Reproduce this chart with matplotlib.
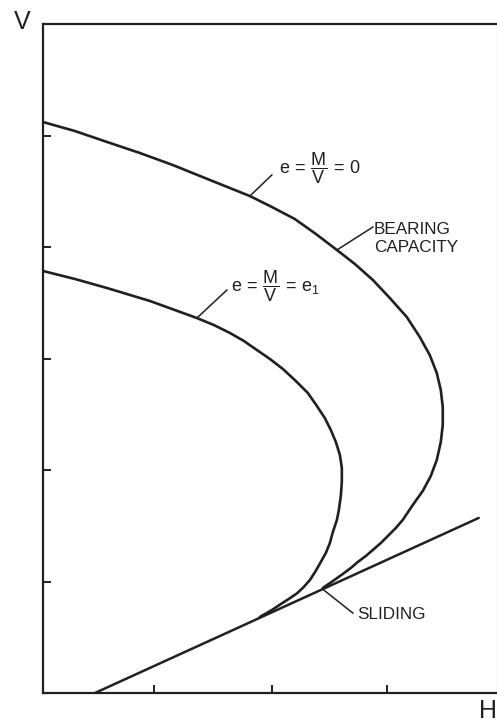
import numpy as np
import matplotlib
matplotlib.use("Agg")
import matplotlib.pyplot as plt

plt.rcParams['font.family'] = ['Liberation Sans', 'DejaVu Sans']
plt.rcParams['mathtext.fontset'] = 'custom'
plt.rcParams['mathtext.rm'] = 'Liberation Sans'
plt.rcParams['mathtext.it'] = 'Liberation Sans'
plt.rcParams['mathtext.bf'] = 'Liberation Sans:bold'

INK = '#231f20'

# bearing capacity envelope, e = M/V = 0  (H, V)
outer_H = [0.000, 0.278, 0.557, 0.843, 1.130, 1.452, 1.800, 1.991, 2.191, 2.374,
           2.557, 2.713, 2.870, 3.017, 3.165, 3.278, 3.365, 3.426, 3.461, 3.478,
           3.478, 3.461, 3.426, 3.374, 3.304, 3.217, 3.130, 3.070, 3.009, 2.939,
           2.870, 2.809, 2.739, 2.678, 2.609, 2.522, 2.435]
outer_V = [5.121, 5.040, 4.942, 4.843, 4.735, 4.601, 4.457, 4.359, 4.251, 4.117,
           3.973, 3.848, 3.704, 3.543, 3.372, 3.193, 3.031, 2.870, 2.717, 2.565,
           2.404, 2.251, 2.090, 1.946, 1.812, 1.686, 1.552, 1.480, 1.417, 1.345,
           1.283, 1.229, 1.175, 1.121, 1.068, 1.004, 0.942]

# envelope for eccentric load, e = M/V = e1
inner_H = [0.000, 0.278, 0.557, 0.930, 1.339, 1.487, 1.626, 1.748, 1.861, 1.974,
           2.087, 2.200, 2.304, 2.383, 2.452, 2.504, 2.548, 2.583, 2.600, 2.600,
           2.591, 2.574, 2.557, 2.522, 2.496, 2.461, 2.417, 2.370, 2.322, 2.265,
           2.209, 2.148, 2.080, 1.991, 1.887]
inner_V = [3.785, 3.713, 3.632, 3.516, 3.363, 3.300, 3.229, 3.157, 3.076, 2.996,
           2.906, 2.798, 2.691, 2.574, 2.466, 2.359, 2.251, 2.135, 2.018, 1.892,
           1.767, 1.641, 1.552, 1.444, 1.345, 1.256, 1.175, 1.090, 1.013, 0.947,
           0.893, 0.850, 0.805, 0.744, 0.682]

# sliding limit
slide_H = [0.452, 3.791]
slide_V = [0.000, 1.570]

xticks = [0.97, 1.99, 2.99]
yticks = [1, 2, 3, 4, 5]

fig = plt.figure(figsize=(4.97, 7.26), dpi=100)
ax = fig.add_axes([43/497, 33/726, 1 - 43/497, 669/726])

ax.plot(outer_H, outer_V, color=INK, lw=1.9, solid_joinstyle='round', solid_capstyle='round')
ax.plot(inner_H, inner_V, color=INK, lw=1.9, solid_joinstyle='round', solid_capstyle='round')
ax.plot(slide_H, slide_V, color=INK, lw=1.8, solid_capstyle='round')

ax.set_xlim(0, 3.95)
ax.set_ylim(0, 6.0)
ax.set_xticks(xticks)
ax.set_yticks(yticks)
ax.set_xticklabels([])
ax.set_yticklabels([])
ax.tick_params(direction='in', length=6, width=1.4, color=INK)
for s in ax.spines.values():
    s.set_color(INK)
    s.set_linewidth(1.6)
ax.spines['right'].set_linewidth(0.8)
ax.spines['right'].set_color('#999999')

# leaders and labels
lw_lead = 1.1
ax.plot([1.800, 1.991], [4.457, 4.646], color=INK, lw=lw_lead)
ax.text(2.055, 4.705, r'$\mathrm{e}\,=\,\dfrac{\mathrm{M}}{\mathrm{V}}\,=\,0$',
        fontsize=13, color=INK, ha='left', va='center')

ax.plot([2.557, 2.870], [3.973, 4.179], color=INK, lw=lw_lead)
ax.text(2.878, 4.075, 'BEARING\nCAPACITY', fontsize=12.3, color=INK,
        ha='left', va='center', linespacing=1.2)

ax.plot([1.339, 1.600], [3.363, 3.614], color=INK, lw=lw_lead)
ax.text(1.637, 3.645, r'$\mathrm{e}\,=\,\dfrac{\mathrm{M}}{\mathrm{V}}\,=\,\mathrm{e}_{\mathrm{1}}$',
        fontsize=13, color=INK, ha='left', va='center')

ax.plot([2.435, 2.696], [0.930, 0.717], color=INK, lw=lw_lead)
ax.text(2.730, 0.700, 'SLIDING', fontsize=12.3, color=INK, ha='left', va='center')

fig.text(22/497, 1 - 22/726, 'V', fontsize=18, color=INK, ha='center', va='center')
fig.text(488/497, 1 - 711/726, 'H', fontsize=18, color=INK, ha='center', va='center')

fig.savefig('out.png', dpi=100)
